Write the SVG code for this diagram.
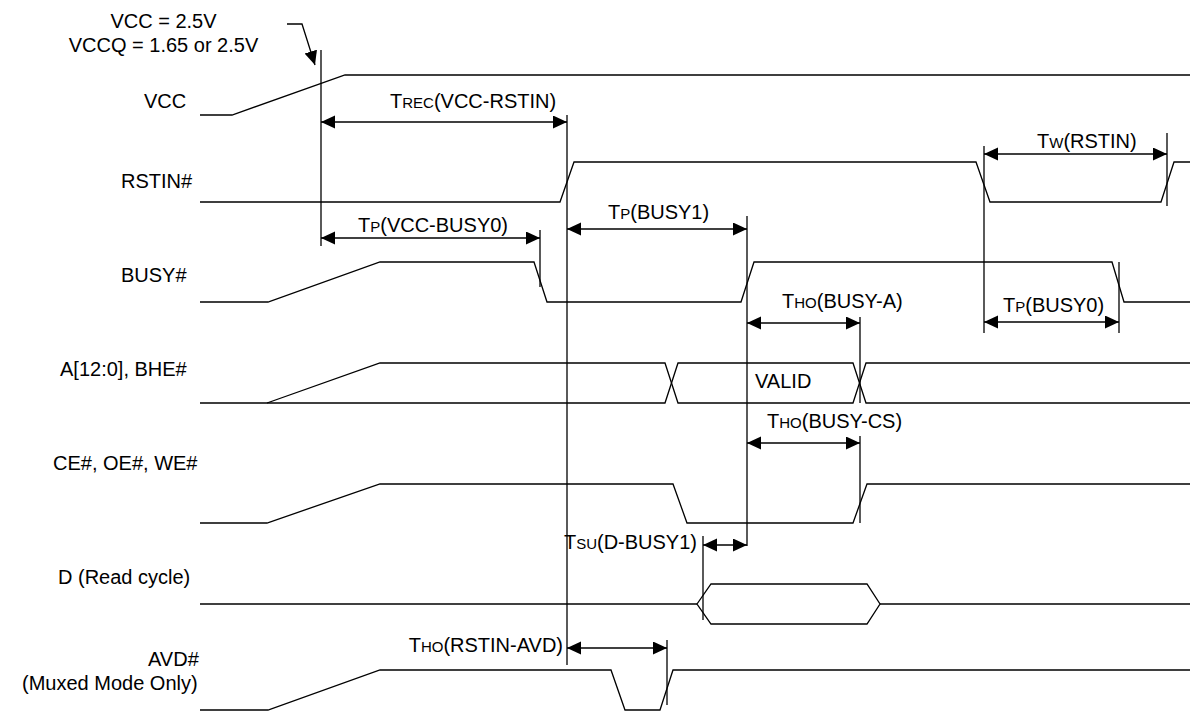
<svg xmlns="http://www.w3.org/2000/svg" width="1190" height="711" viewBox="0 0 1190 711">
<style>
text{font-family:"Liberation Sans",Arial,sans-serif;font-size:20px;fill:#000}
.sc{font-size:15px}
.w{fill:none;stroke:#000;stroke-width:1.3}
.dim{fill:none;stroke:#000;stroke-width:1.3;marker-start:url(#ah);marker-end:url(#ah)}
.ref{fill:none;stroke:#000;stroke-width:1.3}
</style>
<defs>
<marker id="ah" markerUnits="userSpaceOnUse" markerWidth="15" markerHeight="14" refX="14" refY="6.5" orient="auto-start-reverse" viewBox="0 0 15 14">
<path d="M0,0 L14,6.5 L0,13 z" fill="#000"/>
</marker>
</defs>
<rect width="1190" height="711" fill="#fff"/>

<g id="note">
<text x="163.5" y="28" text-anchor="middle">VCC = 2.5V</text>
<text x="163.5" y="52" text-anchor="middle">VCCQ = 1.65 or 2.5V</text>
</g>

<g id="sig-vcc">
<text x="144" y="108">VCC</text>
<polyline class="w" points="200,115 232,115 345,75 1190,75"/>
</g>

<g id="sig-rstin">
<text x="121" y="188">RSTIN#</text>
<polyline class="w" points="200,202 560,202 574,162 976,162 990,202 1161,202 1174,162 1190,162"/>
</g>

<g id="sig-busy">
<text x="121" y="282">BUSY#</text>
<polyline class="w" points="200,302 268,302 380,262 534,262 547,302 741,302 754,262 1112,262 1124,302 1190,302"/>
</g>

<g id="sig-addr">
<text x="60" y="376">A[12:0], BHE#</text>
<polyline class="w" points="200,403 665,403 678,363 853,363 866,403 1190,403"/>
<polyline class="w" points="267,403 380,363 665,363 678,403 853,403 866,363 1190,363"/>
<text x="755" y="388">VALID</text>
</g>

<g id="sig-ce">
<text x="53" y="470">CE#, OE#, WE#</text>
<polyline class="w" points="200,523 267,523 380,484 673,484 687,523 853,523 867,484 1190,484"/>
</g>

<g id="sig-d">
<text x="58" y="584">D (Read cycle)</text>
<polyline class="w" points="200,604 697,604"/>
<polygon class="w" points="697,604 711,584 867,584 880,604 867,624 711,624"/>
<polyline class="w" points="880,604 1190,604"/>
</g>

<g id="sig-avd">
<text x="148" y="666">AVD#</text>
<text x="22" y="690">(Muxed Mode Only)</text>
<polyline class="w" points="200,710 268,710 380,670 611,670 625,710 660,710 673,670 1190,670"/>
</g>

<g id="connectors">
<polyline class="ref" points="287,24 302,24 315,65" marker-end="url(#ah)"/>
<line class="ref" x1="321" y1="50" x2="321" y2="246"/>
<line class="ref" x1="567" y1="115" x2="567" y2="665"/>
<line class="ref" x1="540" y1="230" x2="540" y2="287"/>
<line class="ref" x1="747" y1="216" x2="747" y2="546"/>
<line class="ref" x1="860" y1="317" x2="860" y2="403"/>
<line class="ref" x1="860" y1="436" x2="860" y2="523"/>
<line class="ref" x1="984" y1="146" x2="984" y2="333"/>
<line class="ref" x1="1167" y1="133" x2="1167" y2="206"/>
<line class="ref" x1="1119" y1="262" x2="1119" y2="333"/>
<line class="ref" x1="703" y1="536" x2="703" y2="620"/>
<line class="ref" x1="667" y1="640" x2="667" y2="705"/>

<line class="dim" x1="321" y1="122" x2="567" y2="122"/>
<line class="dim" x1="321" y1="238" x2="540" y2="238"/>
<line class="dim" x1="567" y1="229" x2="747" y2="229"/>
<line class="dim" x1="747" y1="323" x2="860" y2="323"/>
<line class="dim" x1="984" y1="154" x2="1167" y2="154"/>
<line class="dim" x1="984" y1="322" x2="1119" y2="322"/>
<line class="dim" x1="747" y1="443" x2="860" y2="443"/>
<line class="dim" x1="703" y1="545" x2="747" y2="545"/>
<line class="dim" x1="567" y1="648" x2="667" y2="648"/>

<text x="390" y="108">T<tspan class="sc">REC</tspan>(VCC-RSTIN)</text>
<text x="358" y="232">T<tspan class="sc">P</tspan>(VCC-BUSY0)</text>
<text x="608" y="219">T<tspan class="sc">P</tspan>(BUSY1)</text>
<text x="782" y="308">T<tspan class="sc">HO</tspan>(BUSY-A)</text>
<text x="1037" y="148">T<tspan class="sc">W</tspan>(RSTIN)</text>
<text x="1003" y="312">T<tspan class="sc">P</tspan>(BUSY0)</text>
<text x="767" y="428">T<tspan class="sc">HO</tspan>(BUSY-CS)</text>
<text x="697" y="549" text-anchor="end">T<tspan class="sc">SU</tspan>(D-BUSY1)</text>
<text x="563" y="652" text-anchor="end">T<tspan class="sc">HO</tspan>(RSTIN-AVD)</text>
</g>
</svg>
